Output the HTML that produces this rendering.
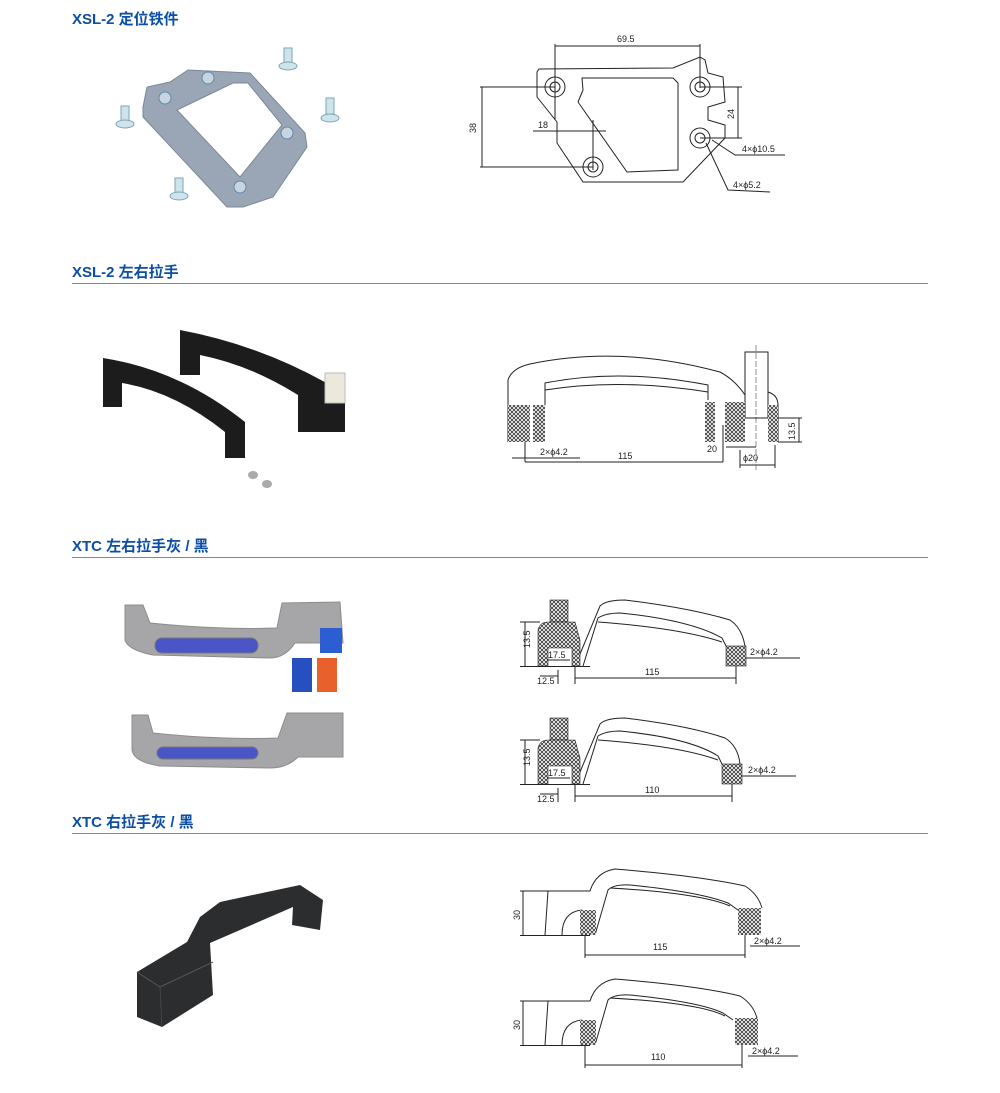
<!DOCTYPE html>
<html><head><meta charset="utf-8"><style>
html,body{margin:0;padding:0;background:#fff}
svg{display:block}
.t{font-family:"Liberation Sans","Noto Sans CJK SC",sans-serif;font-weight:bold;font-size:15px;fill:#0b4ea6}
.d{font-family:"Liberation Sans",sans-serif;font-size:9px;fill:#222}
.l{fill:none;stroke:#222;stroke-width:1}
.th{fill:none;stroke:#444;stroke-width:0.6}
</style></head><body>
<svg width="1000" height="1093" viewBox="0 0 1000 1093" xmlns="http://www.w3.org/2000/svg">
<defs>
<pattern id="h" width="4" height="4" patternUnits="userSpaceOnUse">
<rect width="4" height="4" fill="#fff"/><path d="M0,0L4,4M4,0L0,4" stroke="#333" stroke-width="0.8"/>
</pattern>
<marker id="a" markerWidth="6" markerHeight="6" refX="5" refY="3" orient="auto-start-reverse"><path d="M0,1L5,3L0,5" fill="#222"/></marker>
</defs>

<!-- titles -->
<text class="t" x="72" y="24">XSL-2 定位铁件</text>
<text class="t" x="72" y="277">XSL-2 左右拉手</text>
<line x1="72" y1="283.5" x2="928" y2="283.5" stroke="#888" stroke-width="1"/>
<text class="t" x="72" y="551">XTC 左右拉手灰 / 黑</text>
<line x1="72" y1="557.5" x2="928" y2="557.5" stroke="#888" stroke-width="1"/>
<text class="t" x="72" y="827">XTC 右拉手灰 / 黑</text>
<line x1="72" y1="833.5" x2="928" y2="833.5" stroke="#888" stroke-width="1"/>

<!-- plate photo -->
<path d="M143,107 L147,87 L170,82 L188,70 L250,73 L305,133 L307,147 L273,197 L243,207 L227,207 L143,117Z M177,110 L233,83 L248,83 L282,125 L240,177Z" fill="#9aa6b6" fill-rule="evenodd" stroke="#7c8898"/>
<g fill="#c8d4e0" stroke="#5b8bb0"><circle cx="165" cy="98" r="6"/><circle cx="208" cy="78" r="6"/><circle cx="287" cy="133" r="6"/><circle cx="240" cy="187" r="6"/></g>
<g fill="#cfe3ea" stroke="#7ca6b8">
<rect x="284" y="48" width="8" height="16"/><ellipse cx="288" cy="66" rx="9" ry="4"/>
<rect x="121" y="106" width="8" height="16"/><ellipse cx="125" cy="124" rx="9" ry="4"/>
<rect x="326" y="98" width="8" height="16"/><ellipse cx="330" cy="118" rx="9" ry="4"/>
<rect x="175" y="178" width="8" height="16"/><ellipse cx="179" cy="196" rx="9" ry="4"/>
</g>

<!-- plate drawing -->
<path class="l" d="M539,69 L673,68 L700,57 L705,60 L708,73 L723,77 L725,102 L708,107 L708,120 L725,125 L725,138 L683,182 L583,182 L557,143 L557,122 L537,97 L537,72Z"/>
<path class="l" d="M582,78 L673,78 L678,83 L678,170 L627,172 L578,102 L583,90Z"/>
<g class="l"><circle cx="555" cy="87" r="10"/><circle cx="555" cy="87" r="5"/><circle cx="700" cy="87" r="10"/><circle cx="700" cy="87" r="5"/><circle cx="700" cy="138" r="10"/><circle cx="700" cy="138" r="5"/><circle cx="593" cy="167" r="10"/><circle cx="593" cy="167" r="5"/></g>
<g class="l" stroke-width="0.7">
<line x1="555" y1="44" x2="555" y2="120"/><line x1="700" y1="44" x2="700" y2="88"/>
<line x1="555" y1="46" x2="700" y2="46"/>
<line x1="480" y1="87" x2="555" y2="87"/><line x1="480" y1="167" x2="593" y2="167"/><line x1="482" y1="87" x2="482" y2="167"/>
<line x1="533" y1="131" x2="606" y2="131"/><line x1="593" y1="120" x2="593" y2="170"/>
<line x1="700" y1="87" x2="742" y2="87"/><line x1="700" y1="138" x2="742" y2="138"/><line x1="738" y1="87" x2="738" y2="138"/>
<polyline points="712,140 735,155 785,155"/><polyline points="706,143 728,190 770,192"/>
</g>
<text class="d" x="617" y="42">69.5</text>
<text class="d" transform="translate(476,133) rotate(-90)">38</text>
<text class="d" x="538" y="128">18</text>
<text class="d" transform="translate(734,119) rotate(-90)">24</text>
<text class="d" x="742" y="152">4×ϕ10.5</text>
<text class="d" x="733" y="188">4×ϕ5.2</text>

<!-- black handles photo -->
<g fill="#1c1c1c">
<path d="M180,330 Q260,345 330,385 L345,388 L345,432 L298,432 L298,395 Q250,365 200,355 L200,375 L180,375Z"/>
<path d="M103,358 Q180,370 245,422 L245,458 L225,458 L225,432 Q175,392 122,383 L122,407 L103,407Z"/>
</g>
<rect x="325" y="373" width="20" height="30" fill="#ece8dc" stroke="#bbb"/>
<g fill="#aaa"><ellipse cx="253" cy="475" rx="5" ry="4"/><ellipse cx="267" cy="484" rx="5" ry="4"/></g>

<!-- handle drawing 2 -->
<path class="l" d="M508,442 L508,380 Q512,368 530,364 Q620,345 720,372 Q735,380 745,395 L768,392 Q778,395 778,405 L778,442"/>
<path class="l" d="M545,405 L545,383 Q620,368 708,385 L708,400"/>
<path class="l" d="M545,390 Q620,378 708,392"/>
<rect x="745" y="352" width="23" height="66" fill="#fff" stroke="#222"/>
<line x1="756" y1="345" x2="756" y2="470" stroke="#222" stroke-width="0.5" stroke-dasharray="6,2"/>
<rect x="508" y="405" width="22" height="37" fill="url(#h)"/>
<rect x="533" y="405" width="12" height="37" fill="url(#h)"/>
<rect x="705" y="402" width="10" height="40" fill="url(#h)"/>
<rect x="725" y="402" width="20" height="40" fill="url(#h)"/>
<rect x="768" y="405" width="10" height="37" fill="url(#h)"/>
<g class="l" stroke-width="0.6">
<line x1="525" y1="442" x2="525" y2="462"/><line x1="723" y1="425" x2="723" y2="462"/>
<line x1="525" y1="462" x2="723" y2="462"/>
<line x1="512" y1="458" x2="580" y2="458"/>
<line x1="726" y1="447" x2="756" y2="447"/>
<line x1="740" y1="450" x2="740" y2="468"/><line x1="775" y1="445" x2="775" y2="468"/><line x1="740" y1="465" x2="775" y2="465"/>
<line x1="778" y1="418" x2="802" y2="418"/><line x1="778" y1="442" x2="802" y2="442"/><line x1="799" y1="418" x2="799" y2="442"/>
</g>
<text class="d" x="540" y="455">2×ϕ4.2</text>
<text class="d" x="618" y="459">115</text>
<text class="d" x="707" y="452">20</text>
<text class="d" x="743" y="461">ϕ20</text>
<text class="d" transform="translate(795,440) rotate(-90)">13.5</text>

<!-- gray handles photo -->
<g fill="#a6a6a8" stroke="#8c8c8e">
<path d="M125,605 L143,605 L150,623 Q220,630 277,628 L282,603 L340,602 L343,643 L295,643 Q285,658 270,658 L153,655 Q128,650 125,640Z"/>
<path d="M132,715 L148,715 L153,733 Q220,740 278,738 L287,713 L343,713 L343,757 L298,757 Q287,768 270,768 L160,766 Q134,762 132,750Z"/>
</g>
<rect x="155" y="638" width="103" height="15" rx="7" fill="#4a55c8" stroke="#777"/>
<rect x="157" y="747" width="101" height="12" rx="6" fill="#4a55c8" stroke="#777"/>
<rect x="320" y="628" width="22" height="25" fill="#2b5ed0"/>
<rect x="292" y="658" width="20" height="34" fill="#2650c0"/>
<rect x="317" y="658" width="20" height="34" fill="#e8612c"/>

<!-- XTC drawings (two) -->
<g id="x1">
<path class="l" d="M575,666 L600,606 Q606,600 625,600 Q690,608 730,620 Q742,628 745,646"/>
<path class="l" d="M583,666 L598,618 Q606,613 620,613 Q690,620 722,638 L726,646"/>
<path class="l" d="M598,622 Q680,628 722,642"/>
<rect x="550" y="600" width="18" height="22" fill="url(#h)" stroke="#222" stroke-width="0.6"/>
<path d="M538,666 L538,630 Q540,622 548,622 L575,622 L580,640 L580,666 L572,666 L572,648 L548,648 L548,666Z" fill="url(#h)" stroke="#222" stroke-width="0.6"/>
<rect x="726" y="646" width="20" height="20" fill="url(#h)" stroke="#222" stroke-width="0.6"/>
<line x1="520" y1="666.5" x2="590" y2="666.5" stroke="#222"/>
<g class="l" stroke-width="0.6">
<line x1="525" y1="622" x2="525" y2="666"/><line x1="520" y1="622" x2="540" y2="622"/>
<line x1="547" y1="660" x2="570" y2="660"/>
<line x1="540" y1="676" x2="558" y2="676"/><line x1="558" y1="670" x2="558" y2="684"/>
<line x1="575" y1="666" x2="575" y2="684"/><line x1="575" y1="678" x2="736" y2="678"/><line x1="736" y1="666" x2="736" y2="684"/>
<line x1="746" y1="658" x2="800" y2="658"/>
</g>
<text class="d" x="548" y="658">17.5</text>
<text class="d" x="537" y="684">12.5</text>
<text class="d" x="645" y="675">115</text>
<text class="d" x="750" y="655">2×ϕ4.2</text>
<text class="d" transform="translate(530,648) rotate(-90)">13.5</text>
</g>
<g transform="translate(0,118)">
<path class="l" d="M575,666 L600,606 Q606,600 625,600 Q690,608 725,620 Q738,628 740,646"/>
<path class="l" d="M583,666 L598,618 Q606,613 620,613 Q690,620 718,638 L722,646"/>
<path class="l" d="M598,622 Q680,628 718,642"/>
<rect x="550" y="600" width="18" height="22" fill="url(#h)" stroke="#222" stroke-width="0.6"/>
<path d="M538,666 L538,630 Q540,622 548,622 L575,622 L580,640 L580,666 L572,666 L572,648 L548,648 L548,666Z" fill="url(#h)" stroke="#222" stroke-width="0.6"/>
<rect x="722" y="646" width="20" height="20" fill="url(#h)" stroke="#222" stroke-width="0.6"/>
<line x1="520" y1="666.5" x2="590" y2="666.5" stroke="#222"/>
<g class="l" stroke-width="0.6">
<line x1="525" y1="622" x2="525" y2="666"/><line x1="520" y1="622" x2="540" y2="622"/>
<line x1="547" y1="660" x2="570" y2="660"/>
<line x1="540" y1="676" x2="558" y2="676"/><line x1="558" y1="670" x2="558" y2="684"/>
<line x1="575" y1="666" x2="575" y2="684"/><line x1="575" y1="678" x2="732" y2="678"/><line x1="732" y1="666" x2="732" y2="684"/>
<line x1="742" y1="658" x2="796" y2="658"/>
</g>
<text class="d" x="548" y="658">17.5</text>
<text class="d" x="537" y="684">12.5</text>
<text class="d" x="645" y="675">110</text>
<text class="d" x="748" y="655">2×ϕ4.2</text>
<text class="d" transform="translate(530,648) rotate(-90)">13.5</text>
</g>

<!-- black handle 4 -->
<g fill="#2b2d2e">
<path d="M187,942 L200,917 L220,902 L300,885 L323,900 L320,930 L292,925 L293,907 L210,943 L213,995 L162,1027 L137,1017 L137,972Z"/>
</g>
<path d="M137,972 L160,987 L213,962" fill="none" stroke="#555"/>
<line x1="160" y1="987" x2="162" y2="1027" stroke="#444"/>

<!-- XTC right drawings -->
<g>
<path class="l" d="M520,891 L590,891 Q596,872 615,869 Q700,876 745,886 Q758,894 762,908"/>
<path class="l" d="M548,891 L545,935"/>
<path class="l" d="M595,935 L608,890 Q614,884 630,885 Q700,892 728,903 L738,910"/>
<path class="l" d="M610,888 Q700,893 730,906"/>
<path class="l" d="M562,935 Q562,912 582,910"/>
<rect x="580" y="910" width="16" height="25" fill="url(#h)"/>
<rect x="738" y="908" width="23" height="27" fill="url(#h)"/>
<line x1="520" y1="935.5" x2="590" y2="935.5" stroke="#222"/>
<g class="l" stroke-width="0.6">
<line x1="523" y1="891" x2="523" y2="935"/>
<line x1="585" y1="935" x2="585" y2="958"/><line x1="585" y1="955" x2="745" y2="955"/><line x1="745" y1="935" x2="745" y2="958"/>
<line x1="750" y1="946" x2="800" y2="946"/>
</g>
<text class="d" x="653" y="950">115</text>
<text class="d" x="754" y="944">2×ϕ4.2</text>
<text class="d" transform="translate(520,920) rotate(-90)">30</text>
</g>
<g transform="translate(0,110)">
<path class="l" d="M520,891 L590,891 Q596,872 615,869 Q700,876 740,886 Q753,894 757,908"/>
<path class="l" d="M548,891 L545,935"/>
<path class="l" d="M595,935 L608,890 Q614,884 630,885 Q700,892 723,903 L733,910"/>
<path class="l" d="M610,888 Q700,893 725,906"/>
<path class="l" d="M562,935 Q562,912 582,910"/>
<rect x="580" y="910" width="16" height="25" fill="url(#h)"/>
<rect x="735" y="908" width="23" height="27" fill="url(#h)"/>
<line x1="520" y1="935.5" x2="590" y2="935.5" stroke="#222"/>
<g class="l" stroke-width="0.6">
<line x1="523" y1="891" x2="523" y2="935"/>
<line x1="585" y1="935" x2="585" y2="958"/><line x1="585" y1="955" x2="742" y2="955"/><line x1="742" y1="935" x2="742" y2="958"/>
<line x1="748" y1="946" x2="798" y2="946"/>
</g>
<text class="d" x="651" y="950">110</text>
<text class="d" x="752" y="944">2×ϕ4.2</text>
<text class="d" transform="translate(520,920) rotate(-90)">30</text>
</g>
</svg>
</body></html>
